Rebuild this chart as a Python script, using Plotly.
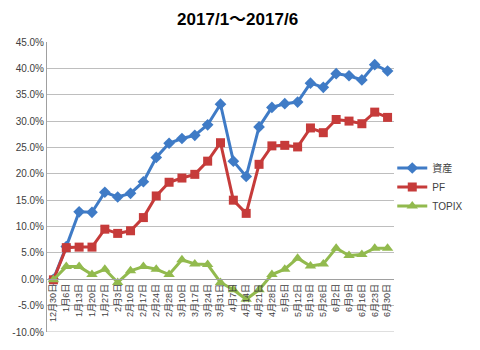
import plotly.graph_objects as go

categories = ["12月30日", "1月6日", "1月13日", "1月20日", "1月27日", "2月3日", "2月10日",
              "2月17日", "2月24日", "2月28日", "3月10日", "3月17日", "3月24日", "3月31日",
              "4月7日", "4月14日", "4月21日", "4月28日", "5月5日", "5月12日", "5月19日",
              "5月26日", "6月2日", "6月9日", "6月16日", "6月23日", "6月30日"]

shisan = [0.0, 6.2, 12.8, 12.7, 16.5, 15.6, 16.3, 18.5, 23.1, 25.8, 26.7, 27.3, 29.3, 33.2,
          22.4, 19.5, 28.9, 32.6, 33.3, 33.6, 37.2, 36.4, 39.0, 38.6, 37.8, 40.7, 39.5]
pf = [-0.1, 6.0, 6.1, 6.1, 9.5, 8.7, 9.2, 11.7, 15.8, 18.4, 19.2, 19.9, 22.4, 25.9,
      15.0, 12.5, 21.8, 25.3, 25.4, 25.1, 28.7, 27.8, 30.3, 30.0, 29.5, 31.7, 30.7]
topix = [-0.1, 2.4, 2.4, 0.9, 1.9, -0.6, 1.6, 2.4, 1.9, 0.9, 3.7, 2.9, 2.8, -0.6,
         -2.0, -3.8, -2.0, 0.9, 1.9, 4.0, 2.5, 2.9, 5.9, 4.5, 4.7, 5.9, 5.9]

y_ticks = [-10, -5, 0, 5, 10, 15, 20, 25, 30, 35, 40, 45]
y_ticktext = [f"{v:.1f}%" for v in y_ticks]

FONT = "Liberation Sans, Noto Sans CJK JP, sans-serif"

fig = go.Figure()
fig.add_trace(go.Scatter(x=categories, y=shisan, name="資産", mode="lines+markers",
                         line=dict(color="#3F7BC6", width=3),
                         marker=dict(symbol="diamond", size=9, color="#3F7BC6")))
fig.add_trace(go.Scatter(x=categories, y=pf, name="PF", mode="lines+markers",
                         line=dict(color="#C63B3A", width=3),
                         marker=dict(symbol="square", size=9, color="#C63B3A")))
fig.add_trace(go.Scatter(x=categories, y=topix, name="TOPIX", mode="lines+markers",
                         line=dict(color="#92BA4E", width=3),
                         marker=dict(symbol="triangle-up", size=10, color="#92BA4E")))

ymin, ymax = -10, 45
fig.add_shape(type="line", xref="paper", yref="y", x0=0, x1=1, y0=ymin, y1=ymin,
              line=dict(color="#BEBEBE", width=1), layer="below")

fig.update_layout(
    width=480, height=350,
    margin=dict(l=41, r=74, t=42, b=15),
    paper_bgcolor="white", plot_bgcolor="white",
    font=dict(family=FONT, color="#404040"),
    title=dict(text="<b>2017/1～2017/6</b>", x=0.495, xanchor="center", y=0.945, yanchor="middle",
               font=dict(size=17, color="#000000", family=FONT)),
    showlegend=True,
    legend=dict(x=0.995, y=0.5, xanchor="left", yanchor="middle",
                font=dict(size=10, color="#404040", family=FONT),
                tracegroupgap=0, bgcolor="rgba(0,0,0,0)"),
    xaxis=dict(type="category", range=[-0.5, len(categories) - 0.5],
               anchor="free", position=(0 - ymin) / (ymax - ymin),
               tickangle=-90, tickfont=dict(size=9, color="#404040", family=FONT),
               showgrid=False, showline=True, linecolor="#A0A0A0", linewidth=1,
               ticks="", zeroline=False),
    yaxis=dict(range=[ymin, ymax], tickvals=y_ticks, ticktext=y_ticktext,
               tickfont=dict(size=10, color="#404040", family=FONT),
               showgrid=True, gridcolor="#BEBEBE", gridwidth=1,
               showline=True, linecolor="#A0A0A0", linewidth=1,
               zeroline=False, ticks="", ticklen=0),
)

fig.write_html("out.html")
